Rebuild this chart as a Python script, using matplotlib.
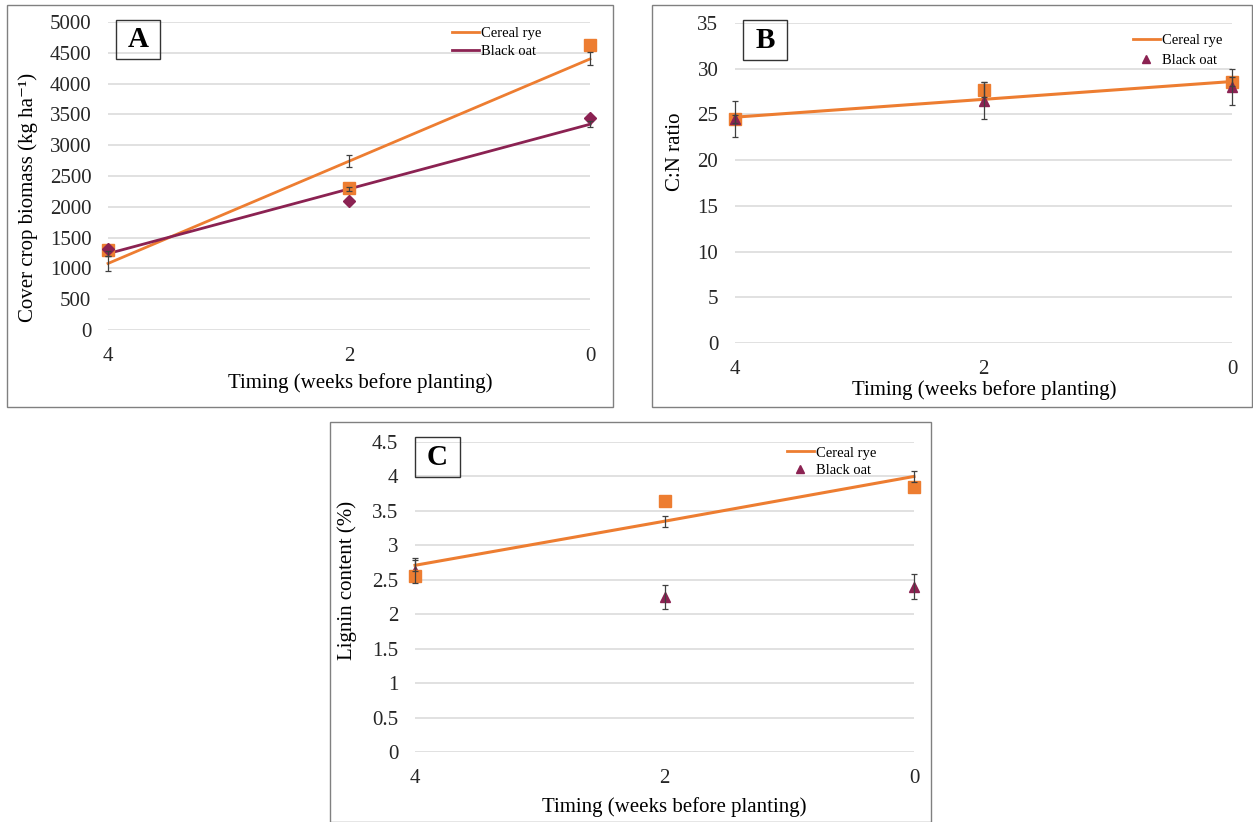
"""
Cover crop biomass, C:N ratio and lignin content by termination timing.
Three Excel-style panels (A, B, C) recreated with matplotlib.
"""

import matplotlib
matplotlib.use("Agg")
import matplotlib.pyplot as plt
from matplotlib.lines import Line2D
from matplotlib.patches import Rectangle
from matplotlib.ticker import FuncFormatter

# Cores
COR_CENTEIO = "#ED7D31"   # laranja (cereal rye)
COR_AVEIA = "#8B2252"     # vinho (black oat)
COR_GRADE = "#D9D9D9"
FONTE = ["Liberation Serif", "DejaVu Serif"]

W, H = 1253, 822

# Dados
weeks = [4, 2, 0]
week_labels = ["4", "2", "0"]

# Painel A - biomassa (kg/ha)
rye_biomass = [1300, 2300, 4620]
oat_biomass = [1320, 2100, 3440]
rye_biomass_fit = [1080, 2740, 4400]
oat_biomass_fit = [1240, 2290, 3340]
rye_biomass_err = [120, 100, 105]
oat_biomass_err = [40, 30, 45]

# Painel B - relação C:N
rye_cn = [24.5, 27.7, 28.6]
oat_cn = [24.5, 26.5, 28.0]
rye_cn_fit = [24.7, 26.65, 28.6]
rye_cn_err = [0.4, 0.8, 0.5]
oat_cn_err = [2.0, 2.0, 2.0]

# Painel C - lignina (%)
rye_lignin = [2.55, 3.65, 3.85]
oat_lignin = [2.63, 2.25, 2.40]
rye_lignin_fit = [2.71, 3.35, 4.0]
rye_lignin_err = [0.08, 0.08, 0.08]
oat_lignin_err = [0.18, 0.18, 0.18]


def fx(x):
    return x / W


def fy(y):
    return 1 - y / H


def make_axes(fig, left, top, right, bottom):
    ax = fig.add_axes([fx(left), fy(bottom), fx(right - left), (bottom - top) / H])
    for s in ax.spines.values():
        s.set_visible(False)
    ax.tick_params(length=0, labelsize=15, colors="#262626")
    ax.yaxis.grid(True, color=COR_GRADE, lw=1.1)
    ax.set_axisbelow(True)
    ax.set_xlim(4, 0)
    ax.set_xticks(weeks)
    ax.set_xticklabels(week_labels)
    return ax


def fix_tick_fonts(ax):
    for lab in ax.get_xticklabels() + ax.get_yticklabels():
        lab.set_family(FONTE)


def frame(fig, left, top, right, bottom, color="#808080", lw=1.0):
    fig.patches.append(Rectangle((fx(left), fy(bottom)), fx(right - left), (bottom - top) / H,
                                 transform=fig.transFigure, fill=False,
                                 edgecolor=color, lw=lw, zorder=0))


def letter_box(fig, left, top, right, bottom, letter):
    frame(fig, left, top, right, bottom, color="#333333", lw=1.0)
    fig.text(fx((left + right) / 2), fy((top + bottom) / 2), letter, family=FONTE,
             fontsize=21, fontweight="bold", ha="center", va="center")


def errbars(ax, y, err):
    ax.errorbar(weeks, y, yerr=err, fmt="none", ecolor="#404040", elinewidth=0.9,
                capsize=2.5, capthick=0.9, zorder=5, clip_on=False)


def legenda(ax, x, y, oat_handle, spacing=0.3):
    ax.legend(handles=[Line2D([], [], color=COR_CENTEIO, lw=2, label="Cereal rye"), oat_handle],
              loc="upper left", bbox_to_anchor=(fx(x), fy(y)), bbox_transform=fig.transFigure,
              frameon=False, borderpad=0, handlelength=1.8, handletextpad=0.15,
              labelspacing=spacing, prop={"family": FONTE, "size": 10.5})


fig = plt.figure(figsize=(W / 100, H / 100), dpi=100)

# ---------- Painel A ----------
frame(fig, 7, 5, 613, 407)
axA = make_axes(fig, 108, 22, 590, 330)
axA.set_ylim(0, 5000)
axA.set_yticks(range(0, 5001, 500))
axA.plot(weeks, rye_biomass_fit, color=COR_CENTEIO, lw=2, zorder=3, clip_on=False)
axA.plot(weeks, oat_biomass_fit, color=COR_AVEIA, lw=2, zorder=3, clip_on=False)
axA.plot(weeks, rye_biomass, ls="none", marker="s", ms=8, color=COR_CENTEIO, zorder=4, clip_on=False)
axA.plot(weeks, oat_biomass, ls="none", marker="D", ms=6.5, color=COR_AVEIA, zorder=4, clip_on=False)
errbars(axA, rye_biomass_fit, rye_biomass_err)
errbars(axA, oat_biomass_fit, oat_biomass_err)
axA.tick_params(axis="x", pad=12)
axA.tick_params(axis="y", pad=12)
fix_tick_fonts(axA)
fig.text(fx(28), fy(197), "Cover crop biomass (kg ha\u207b\u00b9)", family=FONTE, fontsize=15,
         rotation=90, ha="center", va="center")
fig.text(fx(360), fy(383), "Timing (weeks before planting)", family=FONTE, fontsize=15,
         ha="center", va="center")
letter_box(fig, 116, 20, 160, 59, "A")
legenda(axA, 445, 20, Line2D([], [], color=COR_AVEIA, lw=2, label="Black oat"))

# ---------- Painel B ----------
frame(fig, 652, 5, 1252, 407)
axB = make_axes(fig, 735, 23, 1232, 343)
axB.set_ylim(0, 35)
axB.set_yticks(range(0, 36, 5))
axB.plot(weeks, rye_cn, ls="none", marker="s", ms=8, color=COR_CENTEIO, zorder=3, clip_on=False)
axB.plot(weeks, rye_cn_fit, color=COR_CENTEIO, lw=2.2, zorder=3, clip_on=False)
axB.plot(weeks, oat_cn, ls="none", marker="^", ms=7, color=COR_AVEIA, zorder=4, clip_on=False)
errbars(axB, rye_cn, rye_cn_err)
errbars(axB, oat_cn, oat_cn_err)
axB.tick_params(axis="x", pad=12)
axB.tick_params(axis="y", pad=12)
fix_tick_fonts(axB)
fig.text(fx(675), fy(152), "C:N ratio", family=FONTE, fontsize=15,
         rotation=90, ha="center", va="center")
fig.text(fx(984), fy(390), "Timing (weeks before planting)", family=FONTE, fontsize=15,
         ha="center", va="center")
letter_box(fig, 743, 20, 787, 60, "B")
legenda(axB, 1126, 27, Line2D([], [], color=COR_AVEIA, ls="none", marker="^", ms=6,
                              label="Black oat"), spacing=0.45)

# ---------- Painel C ----------
frame(fig, 330, 422, 931, 822)
axC = make_axes(fig, 415, 442, 914, 752)
axC.set_ylim(0, 4.5)
axC.set_yticks([i * 0.5 for i in range(10)])
axC.yaxis.set_major_formatter(FuncFormatter(lambda v, _: f"{v:g}"))
axC.plot(weeks, oat_lignin, ls="none", marker="^", ms=7, color=COR_AVEIA, zorder=3, clip_on=False)
axC.plot(weeks, rye_lignin_fit, color=COR_CENTEIO, lw=2.2, zorder=3, clip_on=False)
axC.plot(weeks, rye_lignin, ls="none", marker="s", ms=8, color=COR_CENTEIO, zorder=4, clip_on=False)
errbars(axC, rye_lignin_fit, rye_lignin_err)
errbars(axC, oat_lignin, oat_lignin_err)
axC.tick_params(axis="x", pad=12)
axC.tick_params(axis="y", pad=12)
fix_tick_fonts(axC)
fig.text(fx(347), fy(580), "Lignin content (%)", family=FONTE, fontsize=15,
         rotation=90, ha="center", va="center")
fig.text(fx(674), fy(807), "Timing (weeks before planting)", family=FONTE, fontsize=15,
         ha="center", va="center")
letter_box(fig, 415, 437, 460, 477, "C")
legenda(axC, 780, 439, Line2D([], [], color=COR_AVEIA, ls="none", marker="^", ms=6,
                              label="Black oat"))

fig.savefig("out.png", dpi=100, facecolor="white")
